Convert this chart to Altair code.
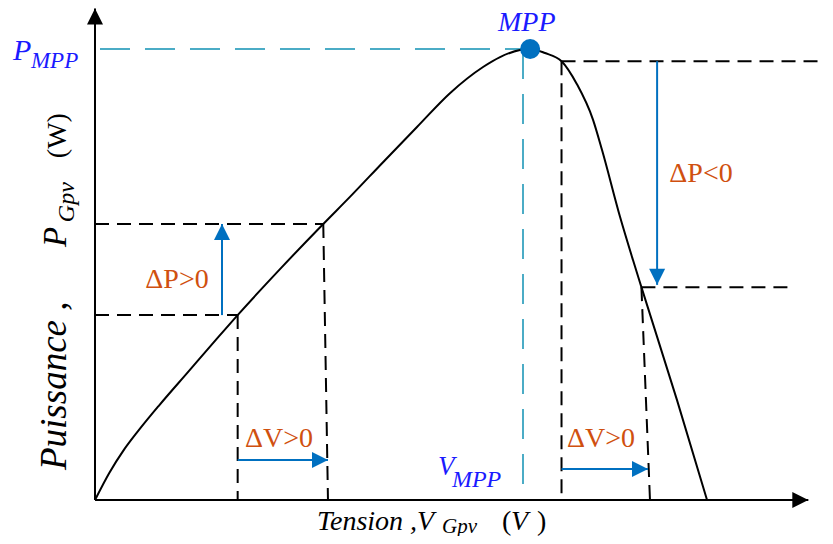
import altair as alt
import pandas as pd

# ---- P-V curve (V in volts, P in watts, schematic units) ----
curve_v = [0, 1.0, 2.0, 3.0, 4.5, 6.5, 8.5, 10.0, 13.0, 16.0, 17.87, 20.19, 22.57,
           24.88, 27.2, 28.39, 29.79, 30.5, 31.54, 32.7, 33.78, 34.91, 35.54, 36.8,
           37.71, 38.3, 40.79, 42.9]
curve_p = [0, 6.0, 11.0, 15.2, 21.0, 28.3, 35.6, 41.0, 51.3, 61.2, 67.2, 74.9, 82.7,
           90.2, 96.0, 98.2, 99.8, 100, 99.1, 97.3, 92.2, 84.3, 77.6, 62.8,
           53.2, 47.2, 22.2, 0]

# MPP
mpp_v = [30.5]
mpp_p = [100]

# black dashed guide segments
dash_v = [0, 0, 10, 16, 32.7, 32.7, 38.3, 38.3]
dash_p = [41, 61.2, 41, 61.2, 97.3, 97.3, 47.2, 47.2]
dash_v2 = [10, 16, 10, 16.33, 51.1, 32.7, 48.9, 38.9]
dash_p2 = [41, 61.2, 0, 0, 97.3, 0, 47.2, 0]

# cyan dashed MPP guides
cy_v = [0.35, 30]
cy_p = [100, 100]
cy_v2 = [30, 30]
cy_p2 = [100, 0]

# arrows (shaft start -> tip)
arr_v = [8.9, 39.4, 10.0, 32.7, 0, 0]
arr_p = [41, 97.3, 8.87, 6.87, 0, 0]
arr_v2 = [8.9, 39.4, 16.33, 38.76, 0, 50.0]
arr_p2 = [61.2, 47.7, 8.87, 6.87, 109.0, 0]
arr_dir = ["up", "down", "right", "right", "up", "right"]
arr_col = ["#0070c0", "#0070c0", "#0070c0", "#0070c0", "black", "black"]

# orange delta labels (centered, baseline)
dl_txt = ["ΔP>0", "ΔP<0", "ΔV>0", "ΔV>0"]
dl_v = [5.75, 42.48, 12.9, 35.47]
dl_p = [47.0, 70.5, 11.75, 11.75]

# blue italic labels
bl_txt = ["MPP", "P", "V", "MPP", "MPP"]
bl_v = [28.25, -5.75, 24.04, -4.49, 25.02]
bl_p = [104.0, 97.56, 5.54, 95.8, 2.88]
bl_fs = [28, 30, 27, 23, 24]

# x title pieces
xt_txt = ["Tension ,V", "Gpv", "V"]
xt_v = [15.56, 24.32, 29.16]
xt_p = [-6.65, -7.32, -6.65]
xt_fs = [28, 21, 28]
xp_txt = ["(", ")"]
xp_v = [28.53, 30.98]
xp_p = [-6.65, -6.65]

# y title pieces (rotated)
yt_txt = ["Puissance ,", "P", "Gpv"]
yt_v = [-2.03, -2.03, -1.45]
yt_p = [6.65, 56.1, 61.6]
yt_fs = [37, 33, 24]
yw_txt = ["(W)"]
yw_v = [-2.03]
yw_p = [75.8]

XS = alt.Scale(domain=[-6.098, 51.168], nice=False, zero=False)
YS = alt.Scale(domain=[-7.982, 109.09], nice=False, zero=False)
FONT = "Liberation Serif, Times New Roman, serif"


def xe(f="v"):
    return alt.X(f"{f}:Q", scale=XS, axis=None)


def ye(f="p"):
    return alt.Y(f"{f}:Q", scale=YS, axis=None)


curve = alt.Chart(pd.DataFrame({"v": curve_v, "p": curve_p})).mark_line(
    color="black", strokeWidth=2, interpolate="monotone"
).encode(x=xe(), y=ye())

dashes = alt.Chart(pd.DataFrame({"v": dash_v, "p": dash_p, "v2": dash_v2, "p2": dash_p2})).mark_rule(
    color="black", strokeWidth=2, strokeDash=[14, 8]
).encode(x=xe(), y=ye(), x2="v2:Q", y2="p2:Q")

cyan = alt.Chart(pd.DataFrame({"v": cy_v, "p": cy_p, "v2": cy_v2, "p2": cy_p2})).mark_rule(
    color="#4bacc6", strokeWidth=2, strokeDash=[30, 15]
).encode(x=xe(), y=ye(), x2="v2:Q", y2="p2:Q")

arr_df = pd.DataFrame({"v": arr_v, "p": arr_p, "v2": arr_v2, "p2": arr_p2,
                       "dir": arr_dir, "col": arr_col})
shafts = alt.Chart(arr_df).mark_rule(strokeWidth=2).encode(
    x=xe(), y=ye(), x2="v2:Q", y2="p2:Q", color=alt.Color("col:N", scale=None)
)
heads = alt.Chart(arr_df).mark_point(filled=True, opacity=1, strokeWidth=0, size=1024).encode(
    x=xe("v2"), y=ye("p2"),
    color=alt.Color("col:N", scale=None),
    shape=alt.Shape("dir:N", scale=alt.Scale(
        domain=["up", "down", "right"],
        range=["M0,0L-0.5,1L0.5,1Z", "M0,0L-0.5,-1L0.5,-1Z", "M0,0L-1,-0.5L-1,0.5Z"]),
        legend=None),
)

mpp = alt.Chart(pd.DataFrame({"v": mpp_v, "p": mpp_p})).mark_circle(
    color="#0070c0", opacity=1, size=400
).encode(x=xe(), y=ye())

dlabels = alt.Chart(pd.DataFrame({"v": dl_v, "p": dl_p, "t": dl_txt})).mark_text(
    font=FONT, fontSize=28, color="#d0500f", align="center", baseline="alphabetic"
).encode(x=xe(), y=ye(), text="t:N")

blabels = alt.Chart(pd.DataFrame({"v": bl_v, "p": bl_p, "t": bl_txt, "fs": bl_fs})).mark_text(
    font=FONT, fontStyle="italic", color="#1a1aff", align="left", baseline="alphabetic"
).encode(x=xe(), y=ye(), text="t:N", size=alt.Size("fs:Q", scale=None))

xtitle = alt.Chart(pd.DataFrame({"v": xt_v, "p": xt_p, "t": xt_txt, "fs": xt_fs})).mark_text(
    font=FONT, fontStyle="italic", color="black", align="left", baseline="alphabetic"
).encode(x=xe(), y=ye(), text="t:N", size=alt.Size("fs:Q", scale=None))

xparen = alt.Chart(pd.DataFrame({"v": xp_v, "p": xp_p, "t": xp_txt})).mark_text(
    font=FONT, fontSize=28, color="black", align="left", baseline="alphabetic"
).encode(x=xe(), y=ye(), text="t:N")

ytitle = alt.Chart(pd.DataFrame({"v": yt_v, "p": yt_p, "t": yt_txt, "fs": yt_fs})).mark_text(
    font=FONT, fontStyle="italic", color="black", align="left", baseline="alphabetic", angle=270
).encode(x=xe(), y=ye(), text="t:N", size=alt.Size("fs:Q", scale=None))

yw = alt.Chart(pd.DataFrame({"v": yw_v, "p": yw_p, "t": yw_txt})).mark_text(
    font=FONT, fontSize=28, color="black", align="left", baseline="alphabetic", angle=270
).encode(x=xe(), y=ye(), text="t:N")

chart = alt.layer(
    dashes, cyan, curve, shafts, heads, mpp, dlabels, blabels, xtitle, xparen, ytitle, yw
).properties(
    width=817, height=528, autosize="none", padding=0
).configure_view(strokeWidth=0)

chart.save("out.html", embed_options={"renderer": "svg", "actions": False})
